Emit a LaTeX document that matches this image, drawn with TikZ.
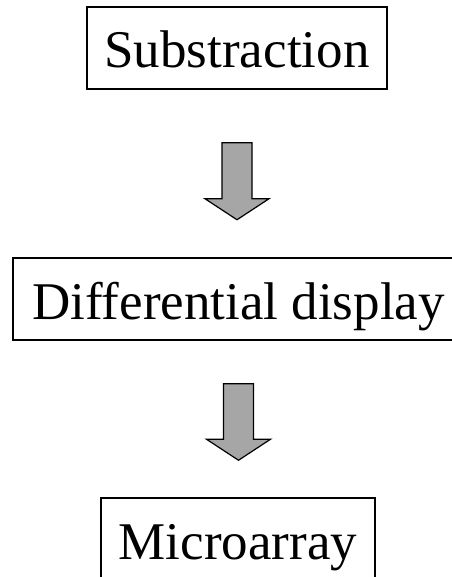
\documentclass[tikz,border=0pt]{standalone}
\usepackage{fontspec}
\setmainfont{Liberation Serif}
\usetikzlibrary{calc}
\definecolor{arrowgray}{RGB}{166,166,166}
\tikzset{
  stagebox/.style={draw=black, line width=1.5pt, inner sep=0pt,
    minimum height=82pt, text height=40pt, text depth=0pt,
    font=\fontsize{53}{60}\selectfont},
  blockarrow/.style={draw=black, line width=1.2pt, fill=arrowgray, line join=miter}
}
% block arrow from a top point (#1) down to a tip (#2)
\newcommand\flowarrow[2]{%
  \path[blockarrow] let \p1=(#1), \p2=(#2) in
    ({\x1-15pt},\y1) -- ({\x1+15pt},\y1) -- ({\x1+15pt},{\y2+21pt})
    -- ({\x1+32pt},{\y2+21pt}) -- (\x1,\y2) -- ({\x1-32pt},{\y2+21pt})
    -- ({\x1-15pt},{\y2+21pt}) -- cycle;}
\begin{document}
\begin{tikzpicture}[x=1pt, y=-1pt]
\useasboundingbox (0,0) rectangle (451,577);
\node[stagebox, minimum width=300pt] (sub) at (237,48) {Substraction};
\node[stagebox, minimum width=451pt] (dd) at (238.5,299) {Differential display};
\node[stagebox, minimum width=274pt] (micro) at (238,539) {Microarray};
\coordinate (a1top) at ($(sub.south)+(0,53)$);
\coordinate (a1tip) at ($(sub.south)+(0,130)$);
\coordinate (a2top) at ($(dd.south)+(0,43)$);
\coordinate (a2tip) at ($(micro.north)+(0,-37)$);
\flowarrow{a1top}{a1tip}
\flowarrow{a2top}{a2tip}
\end{tikzpicture}
\end{document}
